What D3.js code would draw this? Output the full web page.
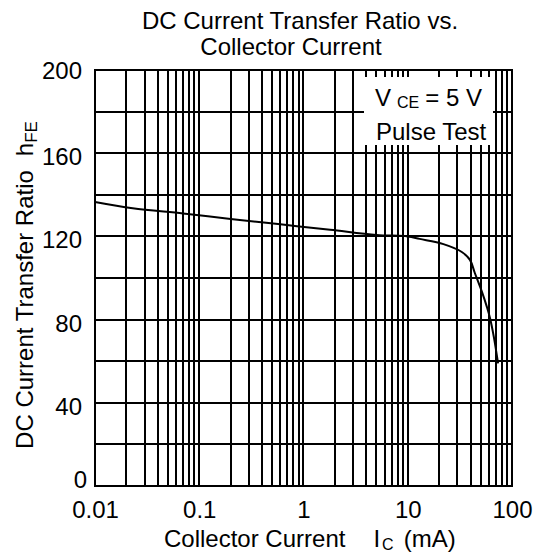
<!DOCTYPE html>
<html><head><meta charset="utf-8">
<script src="https://cdn.jsdelivr.net/npm/d3@7"></script>
<style>
html,body{margin:0;padding:0;background:#fff;}
svg text{font-family:"Liberation Sans",Arial,sans-serif;fill:#000;}
</style></head>
<body>
<svg id="c" width="537" height="553"></svg>
<script>
// Data
const currentMA = [0.01, 0.023, 0.07, 0.2, 0.6, 1.8, 5, 10, 13, 22, 33, 39.5, 44, 51.5, 57.5, 61.5, 67, 73.5];
const hFE       = [136.5, 133.5, 131, 128.4, 125.8, 123.2, 120.7, 120, 118.8, 116.3, 112.5, 108.7, 102.4, 93.3, 86, 80.8, 71.6, 59];
const xTickValues = [0.01, 0.1, 1, 10, 100];
const xTickLabels = ["0.01", "0.1", "1", "10", "100"];
const yTickValues = [0, 40, 80, 120, 160, 200];
const yGridValues = [20, 40, 60, 80, 100, 120, 140, 160, 180];
const titleLines = ["DC Current Transfer Ratio vs.", "Collector Current"];

const svg = d3.select("#c");
const L = 95, R = 512, T = 70, B = 486;
const x = d3.scaleLog().domain([0.01, 100]).range([L, R]);
const y = d3.scaleLinear().domain([0, 200]).range([B, T]);

// vertical grid (1..9 per decade)
const vGrid = [];
for (let e = -2; e < 2; e++) for (let m = 1; m <= 9; m++) vGrid.push(m * Math.pow(10, e));
svg.append("g").selectAll("line").data(vGrid.filter(v => v > 0.0100001)).join("line")
  .attr("x1", d => Math.round(x(d))).attr("x2", d => Math.round(x(d)))
  .attr("y1", T).attr("y2", B).attr("stroke", "#000").attr("stroke-width", 2);
svg.append("g").selectAll("line").data(yGridValues).join("line")
  .attr("x1", L).attr("x2", R).attr("y1", d => Math.round(y(d))).attr("y2", d => Math.round(y(d)))
  .attr("stroke", "#000").attr("stroke-width", 2);

// white legend box
svg.append("rect").attr("x", 364).attr("y", 77).attr("width", 129).attr("height", 68).attr("fill", "#fff");
const lg = svg.append("g").attr("font-size", 24);
const t1 = lg.append("text").attr("x", 375).attr("y", 106);
t1.append("tspan").text("V");
t1.append("tspan").attr("font-size", 16).attr("dy", 2).attr("dx", 6).text("CE");
t1.append("tspan").attr("dy", -2).attr("dx", 6).text("= 5 V");
lg.append("text").attr("x", 376).attr("y", 140).text("Pulse Test");

// frame
svg.append("rect").attr("x", L).attr("y", T).attr("width", R - L).attr("height", B - T)
  .attr("fill", "none").attr("stroke", "#000").attr("stroke-width", 2);

// curve
const line = d3.line().x((d, i) => x(currentMA[i])).y(d => y(d)).curve(d3.curveCatmullRom.alpha(0.5));
svg.append("path").attr("d", line(hFE)).attr("fill", "none").attr("stroke", "#000").attr("stroke-width", 2);

// axes
const xa = svg.append("g").attr("transform", `translate(0,${B})`)
  .call(d3.axisBottom(x).tickValues(xTickValues).tickFormat((d, i) => xTickLabels[i]).tickSize(0).tickPadding(15));
xa.select(".domain").remove();
xa.selectAll("text").attr("font-size", 24).attr("font-family", "Liberation Sans, Arial, sans-serif").attr("fill", "#000");
const ya = svg.append("g").attr("transform", `translate(${L},0)`)
  .call(d3.axisLeft(y).tickValues(yTickValues).tickSize(0).tickPadding(13));
ya.select(".domain").remove();
ya.selectAll("text").attr("font-size", 24).attr("font-family", "Liberation Sans, Arial, sans-serif").attr("fill", "#000")
  .attr("dy", d => d === 0 ? "0.08em" : (d === 200 ? "0.34em" : "0.48em"))
  .attr("dx", d => d === 0 ? 5 : 0);

// titles
svg.append("text").attr("x", 300).attr("y", 29).attr("text-anchor", "middle").attr("font-size", 24).text(titleLines[0]);
svg.append("text").attr("x", 291).attr("y", 55).attr("text-anchor", "middle").attr("font-size", 24).text(titleLines[1]);

// x-axis title
const xt = svg.append("text").attr("x", 164).attr("y", 547).attr("font-size", 24);
xt.append("tspan").text("Collector Current");
xt.append("tspan").attr("dx", 28).text("I");
xt.append("tspan").attr("font-size", 16).attr("dy", 3).attr("dx", 2).text("C");
xt.append("tspan").attr("dy", -3).attr("dx", 10).text("(mA)");

// y-axis title
const yt = svg.append("text").attr("transform", "translate(33,285) rotate(-90)").attr("text-anchor", "middle").attr("font-size", 24);
yt.append("tspan").text("DC Current Transfer Ratio");
yt.append("tspan").attr("dx", 14).text("h");
yt.append("tspan").attr("font-size", 17).attr("dy", 4).text("FE");
</script>
</body></html>
